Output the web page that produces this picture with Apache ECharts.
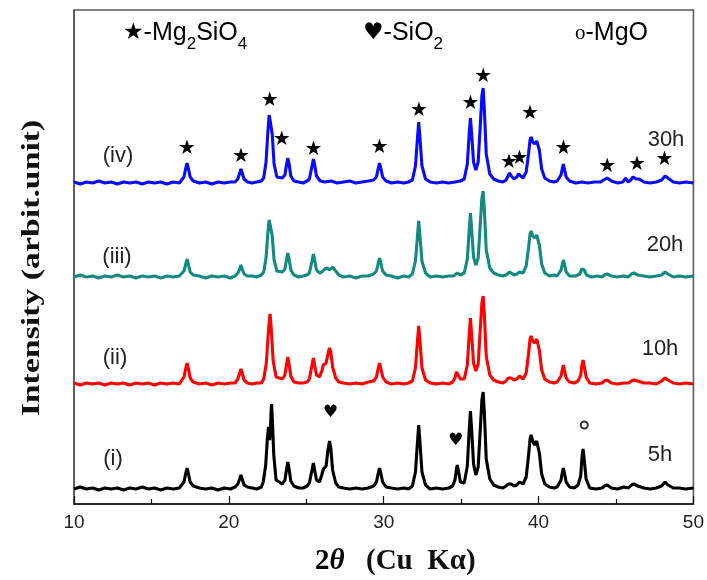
<!DOCTYPE html>
<html>
<head>
<meta charset="utf-8">
<script src="https://cdn.jsdelivr.net/npm/echarts@6/dist/echarts.min.js"></script>
<style>html,body{margin:0;padding:0;background:#fff}#c{width:707px;height:580px}</style>
</head>
<body>
<div id="c"></div>
<script>
// ---- data (2θ in degrees, intensity in arbitrary units above each pattern's baseline) ----
const SAMPLE_LABELS = ['(i)', '(ii)', '(iii)', '(iv)'];
const MILLING_TIMES = ['5h', '10h', '20h', '30h'];
const OFFSETS = [14, 119, 226, 320];
const X_TICKS = [10, 20, 30, 40, 50];

const PATTERN_5H = [
[10,1],[10.4,3],[10.8,1],[11.2,2],[11.6,0],[12,2],[12.4,1],[12.8,2],[13.2,0],[13.6,2],[14,1],[14.4,3],[14.8,1],[15.2,2],[15.6,0],[16,2],[16.4,1],[16.8,2],
[16.9,4],[17.1,8],[17.22,17],[17.3,22],[17.38,17],[17.5,8],[17.7,4],
[18.1,2],[18.5,1],[18.9,2],[19.3,0],[19.7,2],[20.1,1],
[20.4,3],[20.58,6],[20.7,11],[20.78,15],[20.86,11],[20.98,5],[21.2,3],
[21.5,2],[21.8,1],[22.1,3],
[22.22,8],[22.38,25],[22.48,50],[22.56,63],[22.63,50],[22.68,58],[22.73,80],[22.76,86],[22.81,70],[22.9,35],[23.05,10],
[23.45,6],[23.62,10],[23.73,21],[23.81,28],[23.89,21],[24.0,9],[24.2,4],
[24.5,2],[24.8,2],[25.05,4],
[25.2,7],[25.37,20],[25.46,27],[25.54,20],[25.66,10],[25.85,8],
[26.0,15],[26.1,21],[26.18,23],[26.28,24],[26.4,40],[26.5,49],[26.58,42],[26.7,20],[26.9,7],[27.1,3],
[27.4,2],[27.8,1],[28.2,2],[28.6,1],[29.0,2],
[29.35,4],[29.53,8],[29.65,17],[29.73,22],[29.81,17],[29.93,8],[30.15,3],
[30.5,2],[30.9,1],[31.3,2],[31.6,1],
[31.85,4],[32.05,18],[32.18,48],[32.26,65],[32.34,48],[32.47,18],[32.7,5],
[33.0,1],[33.4,2],[33.8,1],[34.2,2],
[34.45,4],[34.6,10],[34.7,21],[34.75,25],[34.82,20],[34.95,8],
[35.2,7],[35.4,24],[35.52,60],[35.6,79],[35.68,60],[35.8,26],[35.95,15],
[36.1,23],[36.24,62],[36.34,90],[36.42,98],[36.5,77],[36.62,31],[36.85,11],[37.1,5],
[37.4,3],[37.7,2],
[37.9,4],[38.03,6],[38.13,8],[38.23,6],[38.42,4],
[38.6,5],[38.7,7],[38.77,8],[38.86,6],[39.0,6],
[39.2,13],[39.35,34],[39.45,51],[39.52,55],[39.62,49],[39.75,45],[39.88,49],[39.95,48],[40.05,37],[40.2,16],[40.4,6],
[40.7,3],[41.0,2],[41.2,3],
[41.3,4],[41.45,10],[41.54,18],[41.6,22],[41.67,17],[41.78,8],[42.0,3],
[42.3,2],[42.55,5],[42.72,14],[42.8,32],[42.87,41],[42.95,30],[43.07,11],[43.3,2],[43.7,1],[44.1,2],
[44.25,4],[44.43,5],[44.7,2],
[45.1,1],[45.5,3],[45.8,2],[46.0,5],[46.15,6],[46.4,4],[46.8,2],
[47.2,1],[47.6,2],[47.95,4],[48.17,8],[48.35,5],[48.7,2],[49.1,2],[49.5,1],[50,2]
];

const PATTERN_10H = [
[10,2],[10.4,0],[10.8,2],[11.2,1],[11.6,2],[12,0],[12.4,2],[12.8,1],[13.2,2],[13.6,0],[14,2],[14.4,1],[14.8,2],[15.2,0],[15.6,2],[16,1],[16.4,2],[16.8,1],
[16.9,3],[17.1,8],[17.22,17],[17.3,22],[17.38,17],[17.5,7],[17.7,3],
[18.1,1],[18.5,2],[18.9,0],[19.3,2],[19.7,1],[20.1,2],
[20.4,2],[20.58,6],[20.7,12],[20.78,16],[20.86,12],[20.98,5],[21.2,2],
[21.5,1],[21.8,2],[22.1,2],
[22.25,6],[22.42,22],[22.56,55],[22.66,71],[22.74,56],[22.86,24],[23.05,8],
[23.45,6],[23.62,10],[23.73,21],[23.81,28],[23.89,21],[24.0,9],[24.2,3],
[24.5,2],[24.8,2],[25.05,3],
[25.2,6],[25.37,20],[25.46,27],[25.54,20],[25.66,10],[25.85,8],
[26.0,14],[26.1,20],[26.18,22],[26.28,22],[26.4,31],[26.5,37],[26.58,33],[26.7,18],[26.9,7],[27.1,3],
[27.4,2],[27.8,1],[28.2,2],[28.6,1],[29.0,3],
[29.35,4],[29.53,8],[29.65,17],[29.73,22],[29.81,17],[29.93,8],[30.15,3],
[30.5,1],[30.9,2],[31.3,1],[31.6,2],
[31.85,4],[32.05,17],[32.18,44],[32.26,59],[32.34,44],[32.47,17],[32.7,5],
[33.0,2],[33.4,1],[33.8,2],[34.2,1],
[34.45,3],[34.6,7],[34.7,13],[34.75,15],[34.82,12],[34.95,6],
[35.2,6],[35.4,20],[35.52,50],[35.6,67],[35.68,50],[35.8,22],[35.95,14],
[36.1,21],[36.24,57],[36.34,82],[36.42,89],[36.5,70],[36.62,29],[36.85,10],[37.1,5],
[37.4,3],[37.7,2],
[37.9,4],[38.03,7],[38.13,9],[38.23,7],[38.42,5],
[38.6,6],[38.7,8],[38.77,9],[38.86,7],[39.0,6],
[39.2,12],[39.35,31],[39.45,46],[39.52,49],[39.62,44],[39.75,42],[39.88,46],[39.95,45],[40.05,35],[40.2,15],[40.4,6],
[40.7,3],[41.0,2],[41.2,3],
[41.3,4],[41.45,9],[41.54,16],[41.6,20],[41.67,15],[41.78,7],[42.0,3],
[42.3,2],[42.55,4],[42.72,10],[42.8,20],[42.87,25],[42.95,19],[43.07,8],[43.3,2],[43.7,1],[44.1,2],
[44.25,4],[44.43,5],[44.7,2],
[45.1,1],[45.5,2],[45.8,2],[46.0,4],[46.15,5],[46.4,4],[46.8,2],
[47.2,2],[47.6,1],[47.95,4],[48.17,7],[48.35,5],[48.7,2],[49.1,1],[49.5,2],[50,1]
];

const PATTERN_20H = [
[10,1],[10.4,3],[10.8,1],[11.2,2],[11.6,0],[12,2],[12.4,1],[12.8,3],[13.2,1],[13.6,2],[14,0],[14.4,2],[14.8,1],[15.2,2],[15.6,0],[16,2],[16.4,1],[16.8,2],
[16.9,3],[17.1,7],[17.22,14],[17.3,19],[17.38,14],[17.5,6],[17.7,3],
[18.1,2],[18.5,0],[18.9,2],[19.3,1],[19.7,2],[20.1,0],
[20.4,2],[20.58,5],[20.7,9],[20.78,13],[20.86,9],[20.98,4],[21.2,2],
[21.5,2],[21.8,1],[22.1,3],
[22.25,6],[22.4,20],[22.52,45],[22.6,58],[22.66,54],[22.72,55],[22.8,42],[22.92,18],[23.1,7],
[23.45,6],[23.62,9],[23.73,19],[23.81,25],[23.89,19],[24.0,8],[24.2,3],
[24.5,1],[24.8,2],[25.05,3],
[25.2,5],[25.37,17],[25.46,24],[25.54,18],[25.66,8],[25.85,5],
[26.0,6],[26.2,9],[26.35,10],[26.5,8],[26.7,11],[26.9,7],[27.1,3],
[27.4,1],[27.8,2],[28.2,0],[28.6,2],[29.0,2],
[29.35,4],[29.53,7],[29.65,15],[29.73,20],[29.81,15],[29.93,7],[30.15,3],
[30.5,2],[30.9,0],[31.3,2],[31.6,1],
[31.85,4],[32.05,17],[32.18,42],[32.26,57],[32.34,42],[32.47,17],[32.7,5],
[33.0,1],[33.4,2],[33.8,1],[34.2,2],[34.5,2],[34.75,5],[34.95,3],
[35.2,5],[35.4,19],[35.52,48],[35.6,65],[35.68,48],[35.8,21],[35.95,13],
[36.1,20],[36.24,55],[36.34,80],[36.42,87],[36.5,68],[36.62,28],[36.85,10],[37.1,5],
[37.4,3],[37.7,2],
[37.9,3],[38.13,6],[38.42,3],
[38.6,4],[38.77,6],[39.0,5],
[39.2,12],[39.35,30],[39.45,44],[39.52,47],[39.62,42],[39.75,40],[39.88,43],[39.95,42],[40.05,33],[40.2,14],[40.4,5],
[40.7,2],[41.0,3],[41.2,2],
[41.3,4],[41.45,8],[41.54,14],[41.6,18],[41.67,14],[41.78,6],[42.0,2],
[42.4,2],[42.65,4],[42.8,9],[42.87,11],[42.95,8],[43.1,3],[43.4,1],[43.8,2],[44.1,1],
[44.25,3],[44.43,4],[44.7,2],
[45.1,1],[45.5,2],[45.8,1],[46.0,4],[46.15,5],[46.4,3],[46.8,2],
[47.2,1],[47.6,2],[47.95,3],[48.17,6],[48.35,4],[48.7,1],[49.1,2],[49.5,1],[50,2]
];

const PATTERN_30H = [
[10,2],[10.4,0],[10.8,2],[11.2,1],[11.6,3],[12,1],[12.4,2],[12.8,0],[13.2,2],[13.6,1],[14,2],[14.4,0],[14.8,2],[15.2,1],[15.6,2],[16,0],[16.4,2],[16.8,1],
[16.9,3],[17.1,7],[17.22,16],[17.3,21],[17.38,16],[17.5,7],[17.7,3],
[18.1,1],[18.5,2],[18.9,0],[19.3,2],[19.7,1],[20.1,2],
[20.4,2],[20.58,5],[20.7,11],[20.78,15],[20.86,11],[20.98,5],[21.2,2],
[21.5,1],[21.8,2],[22.1,3],
[22.25,6],[22.4,22],[22.52,52],[22.6,69],[22.66,64],[22.72,66],[22.8,50],[22.92,20],[23.1,7],
[23.45,6],[23.62,9],[23.73,20],[23.81,26],[23.89,20],[24.0,8],[24.2,3],
[24.5,2],[24.8,1],[25.05,3],
[25.2,5],[25.37,18],[25.46,25],[25.54,19],[25.66,8],[25.9,3],
[26.2,2],[26.6,3],[27,1],[27.4,2],[27.8,3],[28.2,1],[28.6,2],[29.0,3],
[29.35,4],[29.53,7],[29.65,16],[29.73,21],[29.81,16],[29.93,7],[30.15,3],
[30.5,1],[30.9,2],[31.3,1],[31.6,2],
[31.85,4],[32.05,18],[32.18,46],[32.26,62],[32.34,46],[32.47,18],[32.7,5],
[33.0,2],[33.4,1],[33.8,2],[34.2,1],[34.6,2],[34.95,3],
[35.2,5],[35.4,20],[35.52,50],[35.6,66],[35.68,50],[35.8,22],[35.95,14],
[36.1,22],[36.24,60],[36.34,88],[36.42,96],[36.5,74],[36.62,30],[36.85,10],[37.1,5],
[37.4,3],[37.7,2],
[37.9,4],[38.03,8],[38.13,11],[38.23,8],[38.42,5],
[38.6,7],[38.7,10],[38.77,11],[38.86,8],[39.0,6],
[39.2,12],[39.35,30],[39.45,44],[39.52,47],[39.62,42],[39.75,40],[39.88,43],[39.95,42],[40.05,34],[40.2,15],[40.4,6],
[40.7,3],[41.0,2],[41.2,3],
[41.3,4],[41.45,9],[41.54,16],[41.6,20],[41.67,15],[41.78,7],[42.0,3],
[42.4,1],[42.8,2],[43.2,1],[43.6,2],[44.0,2],
[44.2,4],[44.43,6],[44.7,3],
[45.1,1],[45.45,2],[45.62,6],[45.78,2],[45.95,4],[46.1,7],[46.3,5],[46.5,5],[46.8,2],
[47.2,1],[47.6,2],[47.95,4],[48.17,8],[48.35,6],[48.7,2],[49.1,1],[49.5,2],[50,1]
];

// phase markers: [2θ, intensity position]
const MG2SIO4_MARKS = [[17.3,355],[20.78,347],[22.64,403],[23.42,364],[25.46,354],[29.73,356],[32.27,393],[35.6,400],[36.42,427],[38.09,341],[38.76,345],[39.45,390],[41.6,355],[44.43,337],[46.36,339],[48.13,344]];
const SIO2_MARKS = [[26.55,91],[34.65,63]];
const MGO_MARKS = [[42.95,79]];

const PATTERNS = [PATTERN_5H, PATTERN_10H, PATTERN_20H, PATTERN_30H];
const COLORS = ['#000000', '#ff0000', '#128a80', '#0a0aff'];

// ---- chart ----
const chart = echarts.init(document.getElementById('c'), null, {renderer: 'canvas'});
const GRID = {left: 74, right: 9, top: 10, bottom: 76};
const sans = '"Liberation Sans", Arial, sans-serif';
const serif = '"Liberation Serif", "Times New Roman", serif';
const symb = '"DejaVu Sans", sans-serif';

const lineSeries = PATTERNS.map((p, i) => ({
  type: 'line',
  name: MILLING_TIMES[i],
  data: p.map(d => [d[0], d[1] + OFFSETS[i]]),
  showSymbol: false,
  lineStyle: {color: COLORS[i], width: 3.1},
  itemStyle: {color: COLORS[i]},
  z: 3,
  animation: false
}));

function markerSeries(data, glyph, size) {
  return {
    type: 'scatter', data: data, symbolSize: 2,
    itemStyle: {color: 'rgba(0,0,0,0)'},
    label: {show: true, position: 'inside', formatter: glyph, color: '#000', opacity: 1,
            fontSize: size, fontFamily: symb, textBorderWidth: 0},
    z: 5, animation: false, silent: true
  };
}

// sample annotation positions in pixels (label centres)
const LEFT_LABEL_POS = [[113, 459], [115, 358], [117, 257], [118, 156]];
const RIGHT_LABEL_POS = [[660, 455], [660, 349], [665, 245], [666, 140]];

const graphics = [];
SAMPLE_LABELS.forEach((t, i) => {
  graphics.push({type: 'text', x: LEFT_LABEL_POS[i][0], y: LEFT_LABEL_POS[i][1], z: 10,
    style: {text: t, fill: '#222', font: '22px ' + sans, align: 'center', verticalAlign: 'middle'}});
  graphics.push({type: 'text', x: RIGHT_LABEL_POS[i][0], y: RIGHT_LABEL_POS[i][1], z: 10,
    style: {text: MILLING_TIMES[i], fill: '#222', font: '22px ' + sans, align: 'center', verticalAlign: 'middle'}});
});

const legendRich = {
  t: {fontSize: 25, fontFamily: sans, color: '#111', lineHeight: 40},
  b: {fontSize: 17, fontFamily: sans, color: '#111', lineHeight: 16, verticalAlign: 'bottom'},
  s: {fontSize: 23, fontFamily: symb, color: '#000', lineHeight: 40},
  o: {fontSize: 21, fontFamily: serif, color: '#111', lineHeight: 40}
};
graphics.push({type: 'text', x: 123, y: 33, z: 10, style: {text: '{s|★}{t|-Mg}{b|2}{t|SiO}{b|4}', rich: legendRich, align: 'left', verticalAlign: 'middle'}});
graphics.push({type: 'text', x: 363, y: 33, z: 10, style: {text: '{s|♥}{t|-SiO}{b|2}', rich: legendRich, align: 'left', verticalAlign: 'middle'}});
graphics.push({type: 'text', x: 575, y: 33, z: 10, style: {text: '{o|ο}{t|-MgO}', rich: legendRich, align: 'left', verticalAlign: 'middle'}});

// axis titles
graphics.push({type: 'text', x: 32, y: 268, rotation: Math.PI / 2, scaleX: 1.3, z: 10,
  style: {text: 'Intensity (arbit.unit)', fill: '#111', font: 'bold 26px ' + serif, align: 'center', verticalAlign: 'middle'}});
graphics.push({type: 'text', x: 315, y: 562, z: 10,
  style: {text: '{a|2}{b|θ}', align: 'left', verticalAlign: 'middle',
    rich: {a: {fontSize: 29, fontWeight: 'bold', fontFamily: serif, color: '#111'},
           b: {fontSize: 29, fontWeight: 'bold', fontStyle: 'italic', fontFamily: serif, color: '#111'}}}});
graphics.push({type: 'text', x: 366, y: 562, z: 10,
  style: {text: '(Cu\u00a0\u00a0Kα)', fill: '#111', font: 'bold 29px ' + serif, align: 'left', verticalAlign: 'middle'}});

chart.setOption({
  animation: false,
  backgroundColor: '#fff',
  grid: Object.assign({show: true, borderColor: '#555', borderWidth: 1.5, backgroundColor: 'transparent'}, GRID),
  xAxis: {
    type: 'value', min: X_TICKS[0], max: X_TICKS[X_TICKS.length - 1], interval: 10,
    axisLine: {show: true, lineStyle: {color: '#111', width: 1.5}},
    axisTick: {show: true, inside: true, length: 8, lineStyle: {color: '#111', width: 1.2}},
    minorTick: {show: true, splitNumber: 2, length: 5, lineStyle: {color: '#111', width: 1.2}},
    axisLabel: {fontSize: 19, fontFamily: sans, color: '#222', margin: 9},
    splitLine: {show: false}
  },
  yAxis: {
    type: 'value', min: 0, max: 494,
    axisLine: {show: true, lineStyle: {color: '#555', width: 1.5}},
    axisTick: {show: false}, axisLabel: {show: false}, splitLine: {show: false}
  },
  graphic: graphics,
  series: lineSeries.concat([
    markerSeries(MG2SIO4_MARKS, '★', 20),
    markerSeries(SIO2_MARKS, '♥', 17),
    {type: 'scatter', data: MGO_MARKS, symbol: 'emptyCircle', symbolSize: 7,
     itemStyle: {color: '#000', borderColor: '#222', borderWidth: 1.2}, z: 5, animation: false, silent: true}
  ])
});
</script>
</body>
</html>
